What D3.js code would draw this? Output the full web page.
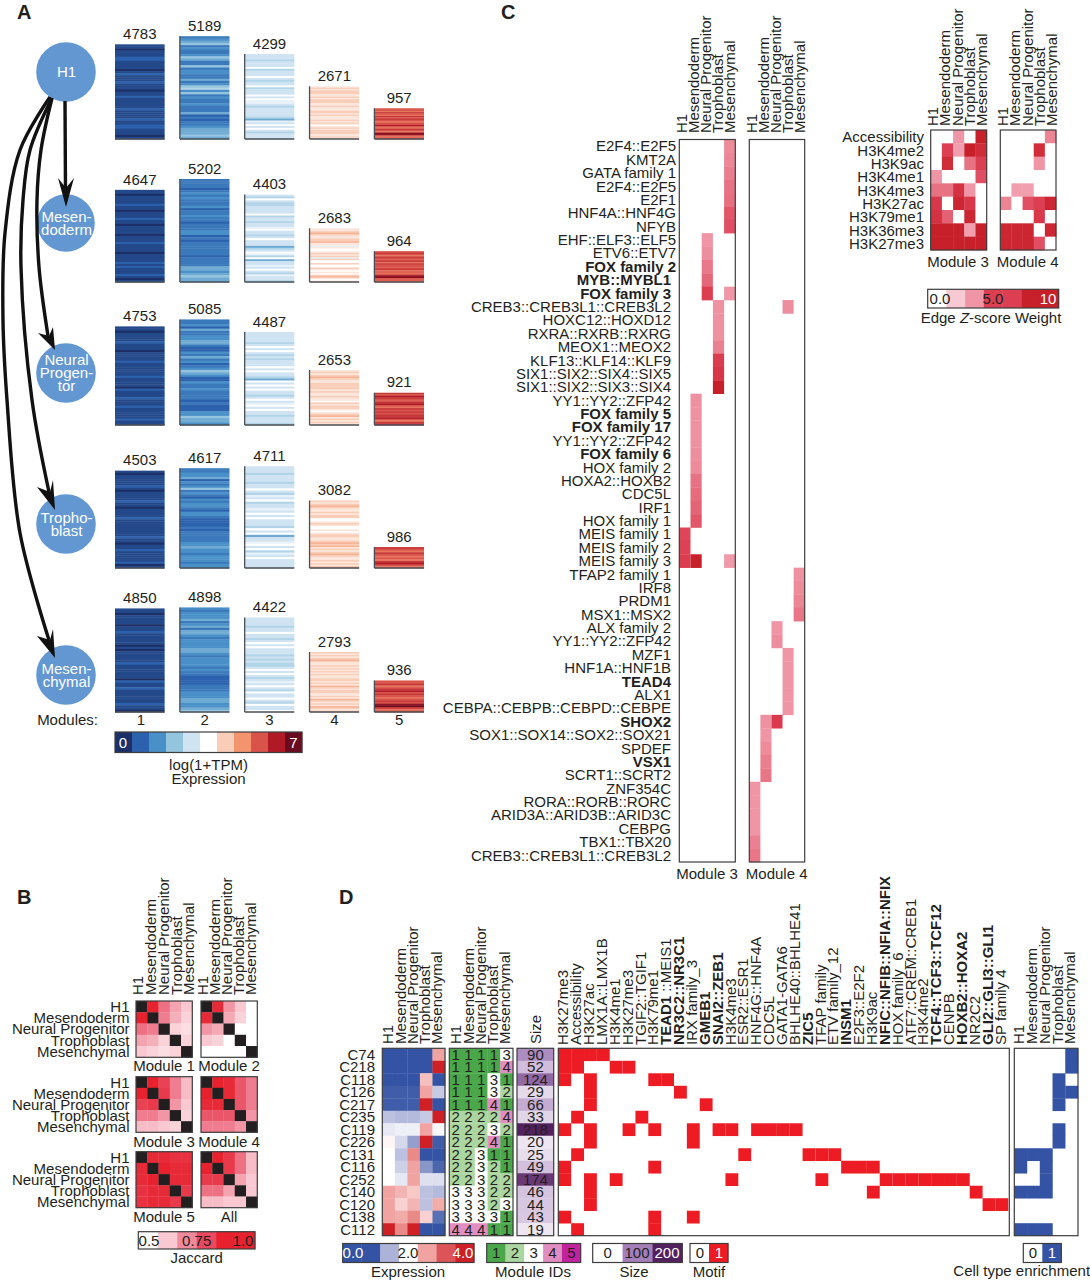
<!DOCTYPE html>
<html><head><meta charset="utf-8">
<script src="https://cdnjs.cloudflare.com/ajax/libs/d3/7.8.5/d3.min.js"></script>
<style>html,body{margin:0;padding:0;background:#fff}svg{display:block}text{font-family:"Liberation Sans",Arial,sans-serif;fill:#231f20}</style>
</head><body><svg id="c" width="1090" height="1280"></svg>
<script>
// ---------- shared categories
const cellTypes = ["H1","Mesendoderm","Neural Progenitor","Trophoblast","Mesenchymal"];
const modules = [1,2,3,4,5];
// ---------- panel A
const moduleCounts = [
 [4783,5189,4299,2671,957],
 [4647,5202,4403,2683,964],
 [4753,5085,4487,2653,921],
 [4503,4617,4711,3082,986],
 [4850,4898,4422,2793,936]];
// stripe levels, top to bottom: each character is base-36, level = value / 2 on the 0..10 colour ramp
const stripes = [
 ["1101112211110121112111011211111211112112211101","3456343346533634433534674634334333523233455565","8887888a7888a8788a7888a8a9987888887598a8a87888","bcbcccbbcbcccbbcbbbccbcbbbcbcbabcbcccbbcb","ggfhgfhghgfggigfhgfjjgfg"],
 ["1101111211011121101111011121111011112121112101","3333234343334233433233344232333333233335545655","87a8778888a7887889a8878a888578a97a58898a879887","bbcdcbbccdbb9baabcbc9caacaacbabacdbab","ghgfhgghfhggghfgfgjjggf"],
 ["1101111211101111211111121111021112111211111211","3342533445532243534234654224334333323222446554","8888878a8a8787888a8a8875a8a8a8878a89a8a8878887","bcbcdcbbccccbcbbcbbacbccbabcdbcbcb","hgihgghigfhghghhigfhh"],
 ["1011111210111121101111211111111211011211111201","3344524346343243443244322223233333445443444344","8887888788a8798a78898a8a8887a8a5889a8a798a8888","cbcdcbbcbccaabcbaababccbbcdcdbcbcdcbbcbcbd","hgfhgfgfhigf"],
 ["1101111011211111010111112111111021121111112110","4344453453554344445543444434332222333444554456","8888788a8878a8a8887878778a8a87898a87a88a87a88a","cbcbcdcbbcbcbcbcbbccbcbdcbccbbcbdcbcbdcbc","gghfghighgfghgjkhfg"]];
// heights shown by the published figure follow a per-row non-linear display scale
const countKnots = [900,2700,5200];
const rowHeightRange = [[30,53,103],[30,54,103],[32,55.5,108],[19,59.5,112],[31,58,111]];
const expressionRamp = ["#1c2f66","#2c62ad","#4a90c8","#94c4de","#cfe3f2","#ffffff","#f9cdb8","#f4946e","#d9534a","#b01a26","#6a0a20"];
const expressionLegendValues = [0,1,2,3,4,5,6,7,8,9,10];
const nodeNames = [["H1"],["Mesen-","doderm"],["Neural","Progen-","tor"],["Tropho-","blast"],["Mesen-","chymal"]];

// ---------- panel B
// upper triangles of Jaccard matrices (H1-Mes,H1-NP,H1-Tro,H1-Mch, Mes-NP,Mes-Tro,Mes-Mch, NP-Tro,NP-Mch, Tro-Mch)
const jaccardNames = ["Module 1","Module 2","Module 3","Module 4","Module 5","All"];
const jaccardUpper = [
 [.90,.74,.66,.60,.72,.64,.58,.58,.56,.58],
 [.88,.68,.60,.50,.65,.58,.50,.50,.50,.50],
 [.90,.82,.72,.62,.84,.72,.62,.68,.60,.58],
 [.90,.88,.78,.72,.88,.78,.72,.78,.72,.68],
 [.88,.88,.86,.86,.90,.88,.88,.88,.88,.84],
 [.90,.84,.74,.62,.84,.74,.62,.66,.60,.60]];
const jaccardLegendValues = [.5,.6,.7,.8,.9,.9];

// ---------- panel C
const motifsC = ["E2F4::E2F5","KMT2A","GATA family 1","E2F4::E2F5","E2F1","HNF4A::HNF4G","NFYB","EHF::ELF3::ELF5","ETV6::ETV7","FOX family 2","MYB::MYBL1","FOX family 3","CREB3::CREB3L1::CREB3L2","HOXC12::HOXD12","RXRA::RXRB::RXRG","MEOX1::MEOX2","KLF13::KLF14::KLF9","SIX1::SIX2::SIX4::SIX5","SIX1::SIX2::SIX3::SIX4","YY1::YY2::ZFP42","FOX family 5","FOX family 17","YY1::YY2::ZFP42","FOX family 6","HOX family 2","HOXA2::HOXB2","CDC5L","IRF1","HOX family 1","MEIS family 1","MEIS family 2","MEIS family 3","TFAP2 family 1","IRF8","PRDM1","MSX1::MSX2","ALX family 2","YY1::YY2::ZFP42","MZF1","HNF1A::HNF1B","TEAD4","ALX1","CEBPA::CEBPB::CEBPD::CEBPE","SHOX2","SOX1::SOX14::SOX2::SOX21","SPDEF","VSX1","SCRT1::SCRT2","ZNF354C","RORA::RORB::RORC","ARID3A::ARID3B::ARID3C","CEBPG","TBX1::TBX20","CREB3::CREB3L1::CREB3L2"];
const boldMotifIndex = [9,10,11,20,21,23,40,43,46];
// [motif row, cell type column, z-score]
const edgesModule3 = [[0,4,5.3],[1,4,5.4],[2,4,5.7],[3,4,6],[4,4,6.1],[5,4,6.8],[6,4,7],[7,2,5],[8,2,5.2],[9,2,5.8],[10,2,6.3],[11,2,7.5],[11,4,4.9],[12,3,5.1],[13,3,5.1],[14,3,5.1],[15,3,5.6],[16,3,7.6],[17,3,8.2],[18,3,10],[19,1,5.1],[20,1,5.1],[21,1,5.1],[22,1,5.1],[23,1,5.2],[24,1,5.3],[25,1,6],[26,1,6.2],[27,1,6.4],[28,1,6.8],[29,0,7.3],[30,0,7.4],[31,0,7.6],[31,1,10],[31,4,4.8]];
const edgesModule4 = [[12,3,5.2],[32,4,5.1],[33,4,5.3],[34,4,5.5],[35,4,5.9],[36,2,5],[37,2,5.2],[38,3,5],[39,3,5],[40,3,5],[41,3,5],[42,3,5],[43,1,5.1],[43,2,7.8],[44,1,5],[45,1,5.3],[46,1,5.7],[47,1,5.9],[48,0,5],[49,0,5],[50,0,5],[51,0,5],[52,0,5.6],[53,0,5.9]];
const marks = ["Accessibility","H3K4me2","H3K9ac","H3K4me1","H3K4me3","H3K27ac","H3K79me1","H3K36me3","H3K27me3"];
const marksModule3 = [[0,0,5,0,10],[0,7.5,4.5,10,9],[0,9,0,6,7.5],[5,0,0,0,7],[6,6,8.5,5,0],[8,0,9.5,8,0],[8.5,6.5,0,9.5,0],[10,10,10,4.5,10],[10,10,10,10,10]];
const marksModule4 = [[0,0,0,0,5.5],[0,0,0,9,0],[0,0,0,5,0],[0,0,0,0,0],[0,4.5,4.5,0,0],[5.5,0,7,7.5,9.5],[0,0,0,8,0],[9.5,9.5,9.5,0,9.5],[9.5,9.5,9.5,7,0]];
const edgeLegendValues = [0,2.5,5,7.5,7.5,10,10];

// ---------- panel D
const clusters = ["C74","C218","C118","C126","C217","C235","C119","C226","C131","C116","C252","C140","C120","C138","C112"];
const clusterExpression = [[0,0,0,0,3],[0,0,0,0,4],[0,0,0,2.7,0],[.1,.1,.1,3,1.3],[.1,.1,.1,4,0],[1.2,1.1,1.1,1.3,4],[1.7,1.8,1.8,3,1.9],[2.1,1.5,.8,4,.1],[2,1.2,3.2,0,0],[2,1.4,3,.7,.2],[2,1.7,3,1.6,1.6],[3,2.8,2.6,1.2,1.1],[3,2.5,2.8,1.2,2.9],[3,2.9,3.2,2.5,.3],[4,3.2,4,0,0]];
const clusterModules = [[1,1,1,1,3],[1,1,1,1,4],[1,1,1,3,1],[1,1,1,3,2],[1,1,1,4,1],[2,2,2,2,4],[2,2,2,3,2],[2,2,2,4,1],[2,2,3,1,1],[2,2,3,2,1],[2,2,3,2,2],[3,3,3,2,2],[3,3,3,2,3],[3,3,3,3,1],[4,4,4,1,1]];
const clusterSizes = [90,52,124,29,66,33,218,20,25,49,174,46,44,43,19];
const motifsD = ["H3K27me3","Accessibility","H3K27ac","LMX1A::LMX1B","H3K4me1","H3K27me3","TGIF2::TGIF1","H3K79me1","TEAD1 ::MEIS1","NR3C2::NR3C1","IRX family_3","GMEB1","SNAI2::ZEB1","H3K4me3","ESR2::ESR1","HNF4G::HNF4A","CDC5L","GATA1-GATA6","BHLHE40::BHLHE41","ZIC5","TFAP family","ETV family_12","INSM1","E2F3::E2F2","H3K9ac","NFIC::NFIB::NFIA::NFIX","HOX family_6","ATF7::CREM::CREB1","H3K4me2","TCF4::TCF3::TCF12","CENPB","HOXB2::HOXA2","NR2C2","GLI2::GLI3::GLI1","SP family 4"];
const boldMotifsD = ["NR3C2::NR3C1","GMEB1","SNAI2::ZEB1","ZIC5","INSM1","NFIC::NFIB::NFIA::NFIX","TCF4::TCF3::TCF12","HOXB2::HOXA2","GLI2::GLI3::GLI1"];
// for each cluster: indices of enriched motif columns
const motifHits = [[0,1,2,3],[0,1,4,5],[0,2,7,8],[2,9],[2,11],[1,6],[0,2,5,7,10,12,13,15,16,17,18],[2,10],[1,14,19,20,21],[0,7,22,23,24],[0,2,4,13,20,25,26,27,28,29,30,31],[2,24,32],[2,33,34],[0,7,10],[1,7]];
// for each cluster: indices of enriched cell types
const enrichHits = [[4],[4],[3],[3,4],[3],[],[3],[3],[0,1,2],[0,2],[2],[0,1,2],[],[],[0,1,2]];
const expressionLegendD = [0,0,1,2,3,3.6,4];
const moduleIdLegend = [1,2,3,4,5];
const sizeLegend = [0,100,200];

// ---------- drawing
const svg = d3.select("#c");
const FS = 15, BOX = "#3c3c3c";
const expr = d3.scaleLinear().domain(d3.range(11)).range(expressionRamp).clamp(true);
const jaccardColor = d3.scaleLinear().domain([.5,.6,.7,.8,.9]).range(["#ffffff","#f9c8d0","#f08a9b","#e94a5f","#e7222e"]).clamp(true);
const edgeColor = d3.scaleLinear().domain([0,2.5,5,7.5,10]).range(["#ffffff","#f7c9d2","#ef95a5","#dc3e52","#c8202a"]);
const exprD = d3.scaleLinear().domain([0,1,2,3,4]).range(["#3453a4","#acb2d8","#ffffff","#f0a3a0","#cf2026"]);
const moduleColor = d3.scaleOrdinal().domain(moduleIdLegend).range(["#4aa84a","#abd6a0","#ffffff","#e28dc0","#c2229e"]);
const sizeColor = d3.scaleLinear().domain([0,100,200]).range(["#ffffff","#a47fb9","#54215f"]).clamp(true);

function T(g,x,y,s,o={}){
  const t=g.append("text").attr("x",x).attr("y",y).attr("dy",".35em").attr("font-size",o.size||FS)
    .attr("text-anchor",o.anchor||"middle").attr("font-weight",o.weight||"normal").text(s);
  if(o.fill) t.style("fill",o.fill);
  return t;
}
function letter(s,x,y){ svg.append("text").attr("x",x).attr("y",y).attr("font-size",20).attr("font-weight","bold").text(s); }
function colLabels(g,labels,xFirst,xLast,yBottom,isBold){
  const sc=d3.scalePoint().domain(d3.range(labels.length)).range([xFirst,xLast]);
  labels.forEach((l,i)=>{
    g.append("text").attr("transform",`translate(${sc(i)},${yBottom}) rotate(-90)`).attr("dy",".35em")
     .attr("font-size",FS).attr("font-weight",isBold&&isBold(l)?"bold":"normal").text(l);
  });
}
function box(g,x0,x1,y0,y1,fill){
  g.append("rect").attr("x",x0).attr("y",y0).attr("width",x1-x0).attr("height",y1-y0)
   .attr("fill",fill||"none").attr("stroke",BOX).attr("stroke-width",1.2);
}
function heat(g,matrix,x0,x1,y0,y1,color){
  const ny=matrix.length,nx=matrix[0].length;
  const x=d3.scaleBand().domain(d3.range(nx)).range([x0,x1]);
  const y=d3.scaleBand().domain(d3.range(ny)).range([y0,y1]);
  g.selectAll(null).data(matrix.flatMap((r,i)=>r.map((v,j)=>({i,j,v})))).join("rect")
   .attr("x",d=>x(d.j)).attr("y",d=>y(d.i)).attr("width",x.bandwidth()+.3).attr("height",y.bandwidth()+.3)
   .attr("fill",d=>color(d.v));
  box(g,x0,x1,y0,y1);
  return {x,y};
}
function legend(g,vals,color,x0,x1,y0,y1,labels){
  const x=d3.scaleBand().domain(d3.range(vals.length)).range([x0,x1]);
  vals.forEach((v,i)=>g.append("rect").attr("x",x(i)).attr("y",y0).attr("width",x.bandwidth()+.3).attr("height",y1-y0).attr("fill",color(v)));
  box(g,x0,x1,y0,y1);
  (labels||[]).forEach(l=>T(g,l[0],(y0+y1)/2,l[1],{fill:l[2]}));
}

// ===== Panel A
const A=svg.append("g");
letter("A",17,19);
const xMod=d3.scaleBand().domain(modules).range([115,424]).paddingInner(.235);
const rowBase=[139,282,425,568,712];
const nodeY=[72,223,373,524,675];
moduleCounts.forEach((row,r)=>{
  const h=d3.scaleLinear().domain(countKnots).range(rowHeightRange[r]);
  row.forEach((n,c)=>{
    const m=modules[c], ht=h(n), top=rowBase[r]-ht, s=stripes[r][c];
    const y=d3.scaleBand().domain(d3.range(s.length)).range([top,rowBase[r]]);
    A.selectAll(null).data(s.split("")).join("rect")
      .attr("x",xMod(m)).attr("y",(d,i)=>y(i)).attr("width",xMod.bandwidth()).attr("height",y.bandwidth()+.4)
      .attr("fill",d=>expr(parseInt(d,36)/2));
    const left=c===0?"":`M${xMod(m)},${top}V${rowBase[r]}`;
    A.append("path").attr("d",`${left}M${xMod(m)},${rowBase[r]}H${xMod(m)+xMod.bandwidth()}`)
      .attr("fill","none").attr("stroke","#4a4f55").attr("stroke-width",1.3);
    T(A,xMod(m)+xMod.bandwidth()/2,top-10.5,n);
  });
});
// nodes
nodeNames.forEach((lines,i)=>{
  A.append("circle").attr("cx",66).attr("cy",nodeY[i]).attr("r",i===1?28.8:29.8).attr("fill","#6297d2");
  lines.forEach((l,k)=>{
    const off=(k-(lines.length-1)/2)*(lines.length===3?13:13.4);
    T(A,66.5,nodeY[i]+off,l,{fill:"#fff"});
  });
});
// edges
const edgeLine=d3.line().curve(d3.curveCatmullRom.alpha(.5));
const edges=[
 {p:[[65,101],[65.5,192]],h:[[66,207],[58,178],[66,188],[74,178]]},
 {p:[[52,98],[41,150],[37,200],[39,267],[48,336]],h:[[55,350],[38,333],[49,336],[53,327]]},
 {p:[[52,98],[30,150],[23,200],[21,267],[32,400],[49,492]],h:[[55,510],[37,487],[50,492],[53,480]]},
 {p:[[50,97],[20,150],[5,233],[3,320],[7,400],[20,533],[49,640]],h:[[55,658],[37,636],[50,640],[53,629]]}];
edges.forEach(e=>{
  A.append("path").attr("d",edgeLine(e.p)).attr("fill","none").attr("stroke","#111").attr("stroke-width",3.4);
  A.append("path").attr("d","M"+e.h.join("L")+"Z").attr("fill","#111");
});
T(A,98,720,"Modules:",{anchor:"end"});
modules.forEach(m=>T(A,xMod(m)+xMod.bandwidth()/2+ (m==1?1:0),720,m));
legend(A,expressionLegendValues,expr,115,302,732,752.5,[[123,"0","#fff"],[293.5,"7","#fff"]]);
T(A,208.5,765,"log(1+TPM)");
T(A,208.5,779,"Expression");

// ===== Panel B
const B=svg.append("g");
letter("B",17,904);
const bx=[[136,192.3],[201,257.3]], by=[[1001,1057.3],[1076.7,1132.3],[1151.7,1207.7]];
const byLabel=[1066,1141.7,1216.7], bxLabel=[164,229];
function fullMatrix(u){
  const n=cellTypes.length,M=d3.range(n).map(()=>d3.range(n).map(()=>null));let k=0;
  for(let i=0;i<n;i++)for(let j=i+1;j<n;j++){M[i][j]=M[j][i]=u[k++];}
  return M;
}
jaccardUpper.forEach((u,idx)=>{
  const r=Math.floor(idx/2),c=idx%2;
  heat(B,fullMatrix(u),bx[c][0],bx[c][1],by[r][0],by[r][1],v=>v===null?"#231f20":jaccardColor(v));
  T(B,bxLabel[c],byLabel[r],jaccardNames[idx]);
  if(c===0){
    const y=d3.scaleBand().domain(cellTypes).range(by[r]);
    cellTypes.forEach(ct=>T(B,129.5,y(ct)+y.bandwidth()/2,ct,{anchor:"end"}));
  }
});
colLabels(B,cellTypes,138,189,995);
colLabels(B,cellTypes,203,251,995);
legend(B,jaccardLegendValues,jaccardColor,138.3,255,1231.7,1249,[[149,"0.5"],[196.7,"0.75"],[243,"1.0"]]);
T(B,196.7,1257.7,"Jaccard");

// ===== Panel C
const C=svg.append("g");
letter("C",501,19);
const yC=d3.scaleBand().domain(d3.range(motifsC.length)).range([139.5,862]);
motifsC.forEach((m,i)=>T(C,i<10?676:671,yC(i)+yC.bandwidth()/2,m,{anchor:"end",weight:boldMotifIndex.includes(i)?"bold":"normal"}));
[[edgesModule3,679.3,735.3,"Module 3",707,682,730],[edgesModule4,749.3,804.7,"Module 4",776.7,751.7,800]].forEach(([E,x0,x1,name,lx,a,b])=>{
  const xC=d3.scaleBand().domain(d3.range(5)).range([x0,x1]);
  C.selectAll(null).data(E).join("rect").attr("x",d=>xC(d[1])).attr("y",d=>yC(d[0])).attr("width",xC.bandwidth())
    .attr("height",yC.bandwidth()+.3).attr("fill",d=>edgeColor(d[2]));
  box(C,x0,x1,139.5,862);
  colLabels(C,cellTypes,a,b,133);
  T(C,lx,874,name);
});
[[marksModule3,930.7,986.7,"Module 3",958,933,981.7],[marksModule4,1000.3,1056,"Module 4",1027.7,1003,1051.7]].forEach(([M,x0,x1,name,lx,a,b])=>{
  heat(C,M,x0,x1,130,250,edgeColor);
  colLabels(C,cellTypes,a,b,126);
  T(C,lx,261.7,name);
});
const yM=d3.scaleBand().domain(marks).range([130,250]);
marks.forEach(m=>T(C,924,yM(m)+yM.bandwidth()/2+.5,m,{anchor:"end"}));
legend(C,edgeLegendValues,edgeColor,927.7,1058.7,289.3,308,[[940,"0.0"],[993,"5.0"],[1048,"10","#fff"]]);
const ez=T(C,991,318,"Edge ");
ez.append("tspan").attr("font-style","italic").text("Z");
ez.append("tspan").text("-score Weight");

// ===== Panel D
const D=svg.append("g");
letter("D",339,904);
const dy0=1048.3,dy1=1235.7;
const yD=d3.scaleBand().domain(clusters).range([dy0,dy1]);
clusters.forEach(c=>T(D,375,yD(c)+yD.bandwidth()/2,c,{anchor:"end"}));
heat(D,clusterExpression,382.3,445,dy0,dy1,exprD);
colLabels(D,cellTypes,388,437,1044);
const gm=heat(D,clusterModules,449.3,513,dy0,dy1,d=>moduleColor(d));
clusterModules.forEach((r,i)=>r.forEach((v,j)=>T(D,gm.x(j)+gm.x.bandwidth()/2,gm.y(i)+gm.y.bandwidth()/2,v)));
colLabels(D,cellTypes,456,505,1044);
heat(D,clusterSizes.map(v=>[v]),517,553.7,dy0,dy1,sizeColor);
clusterSizes.forEach((v,i)=>T(D,535.4,yD(clusters[i])+yD.bandwidth()/2,v));
colLabels(D,["Size"],536,536,1044);
// motif matrix
const xMot=d3.scaleBand().domain(d3.range(motifsD.length)).range([558.3,1008.3]);
D.selectAll(null).data(motifHits.flatMap((h,i)=>h.map(j=>({i,j})))).join("rect")
  .attr("x",d=>xMot(d.j)).attr("y",d=>yD(clusters[d.i])).attr("width",xMot.bandwidth()).attr("height",yD.bandwidth()+.3).attr("fill","#ed1c24");
box(D,558.3,1009.3,dy0,dy1);
motifsD.forEach((m,j)=>{
  const t=D.append("text").attr("transform",`translate(${xMot(j)+xMot.bandwidth()/2-1.5},1045) rotate(-90)`).attr("dy",".35em").attr("font-size",FS);
  if(m.startsWith("TEAD1")){ t.append("tspan").attr("font-weight","bold").text("TEAD1"); t.append("tspan").text(" ::MEIS1"); }
  else t.attr("font-weight",boldMotifsD.includes(m)?"bold":"normal").text(m);
});
// enrichment
const xEn=d3.scaleBand().domain(d3.range(5)).range([1014.3,1078]);
D.selectAll(null).data(enrichHits.flatMap((h,i)=>h.map(j=>({i,j})))).join("rect")
  .attr("x",d=>xEn(d.j)).attr("y",d=>yD(clusters[d.i])).attr("width",xEn.bandwidth()+.2).attr("height",yD.bandwidth()+.3).attr("fill","#3453a4");
box(D,1014.3,1078,dy0,dy1);
colLabels(D,cellTypes,1019,1070,1044);
// legends
legend(D,expressionLegendD,exprD,342.7,474,1243.5,1262.5,[[353,"0.0","#fff"],[408,"2.0"],[463,"4.0","#fff"]]);
T(D,408,1272,"Expression");
const xIdL=d3.scaleBand().domain(moduleIdLegend).range([486.7,580.7]);
legend(D,moduleIdLegend,moduleColor,486.7,580.7,1243.5,1262.5,moduleIdLegend.map(m=>[xIdL(m)+xIdL.bandwidth()/2,m]));
T(D,533,1272,"Module IDs");
legend(D,sizeLegend,sizeColor,592.7,682.3,1243.5,1262.5,[[607.7,"0"],[637,"100"],[667,"200","#fff"]]);
T(D,634,1272,"Size");
legend(D,[0,1],v=>v?"#ed1c24":"#fff",690,728,1243.5,1262.5,[[700,"0"],[719,"1","#fff"]]);
T(D,709,1272,"Motif");
legend(D,[0,1],v=>v?"#3453a4":"#fff",1023.3,1061.3,1243.5,1262.5,[[1033,"0"],[1052,"1","#fff"]]);
T(D,1021.7,1271,"Cell type enrichment");
</script></body></html>
